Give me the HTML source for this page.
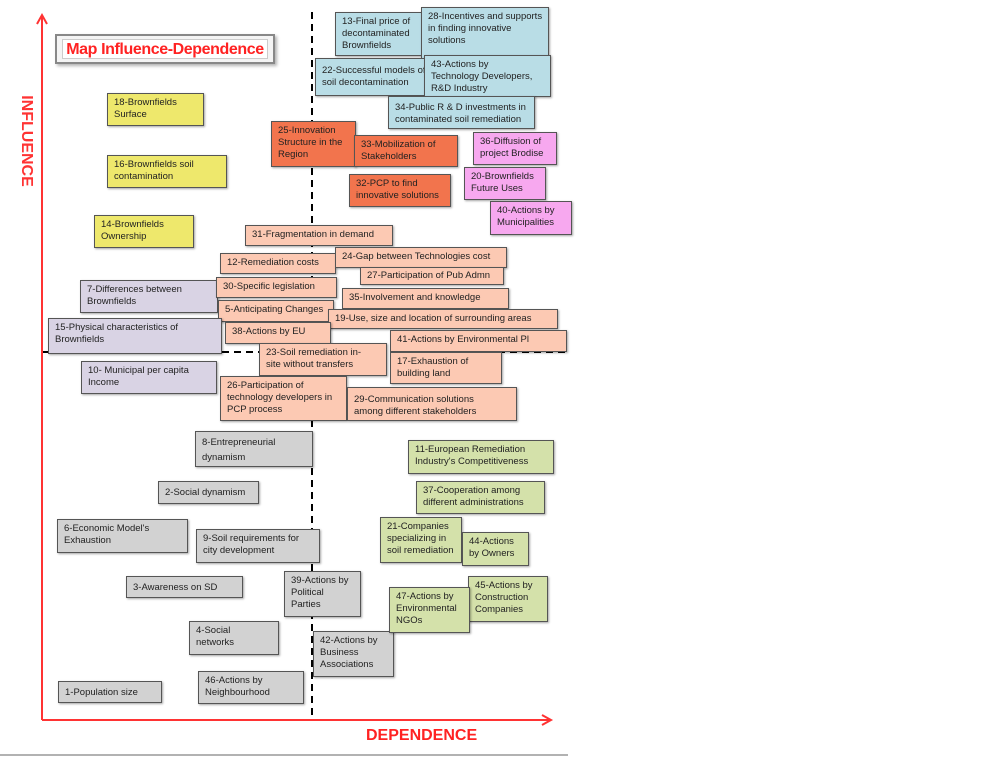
<!DOCTYPE html>
<html><head><meta charset="utf-8"><style>
body{margin:0;width:1008px;height:757px;background:#fff;position:relative;overflow:hidden;font-family:"Liberation Sans",sans-serif}
.b{position:absolute;box-sizing:border-box;border:1px solid #555;font-size:9.5px;line-height:12px;padding:3px 4px 2px 6px;color:#222;box-shadow:1px 1px 2px rgba(0,0,0,.35);white-space:nowrap;overflow:hidden}
.y{background:#eee86c}.bl{background:#b9dde6}.o{background:#f2744d}.p{background:#f7a8ef}.s{background:#fcc9b3}.l{background:#d9d3e4}.g{background:#d2d2d2}.gr{background:#d4e1aa}
</style></head><body>
<svg width="1008" height="757" style="position:absolute;left:0;top:0">
<line x1="312" y1="12" x2="312" y2="720" stroke="#000" stroke-width="2" stroke-dasharray="7,5"/>
<line x1="42" y1="352" x2="565" y2="352" stroke="#000" stroke-width="2" stroke-dasharray="7,5"/>
<line x1="42" y1="720" x2="42" y2="16" stroke="#f33" stroke-width="2"/>
<polyline points="37,24 42,15 47,24" fill="none" stroke="#f33" stroke-width="2"/>
<line x1="42" y1="720" x2="550" y2="720" stroke="#f33" stroke-width="2"/>
<polyline points="542,715 551,720 542,725" fill="none" stroke="#f33" stroke-width="2"/>
<line x1="0" y1="755" x2="568" y2="755" stroke="#999" stroke-width="1.5"/>
</svg>
<div style="position:absolute;left:55px;top:34px;width:220px;height:30px;border:2px solid #888;background:#f4f4f4;box-shadow:2px 2px 3px rgba(0,0,0,.3);box-sizing:border-box"><div style="position:absolute;left:5px;top:3px;right:5px;bottom:3px;border:1px solid #ccc;background:#fff;color:#f22;font-weight:bold;font-size:16px;letter-spacing:-0.4px;line-height:20px;text-align:center;white-space:nowrap">Map Influence-Dependence</div></div>
<div style="position:absolute;left:-26px;top:132px;width:104px;transform:rotate(90deg);color:#f33;font-weight:bold;font-size:16px;text-align:center">INFLUENCE</div>
<div style="position:absolute;left:366px;top:727px;color:#f22;font-weight:bold;font-size:16px">DEPENDENCE</div>

<div class="b bl" style="left:335px;top:12px;width:90px;height:44px">13-Final price of<br>decontaminated<br>Brownfields</div>
<div class="b bl" style="left:421px;top:7px;width:128px;height:52px">28-Incentives and supports<br>in finding innovative<br>solutions</div>
<div class="b bl" style="left:315px;top:58px;width:110px;height:38px;padding-top:6px">22-Successful models of<br>soil decontamination</div>
<div class="b bl" style="left:424px;top:55px;width:127px;height:42px">43-Actions by<br>Technology Developers,<br>R&amp;D Industry</div>
<div class="b bl" style="left:388px;top:96px;width:147px;height:33px;padding-top:5px">34-Public R &amp; D investments in<br>contaminated soil remediation</div>
<div class="b y" style="left:107px;top:93px;width:97px;height:33px">18-Brownfields<br>Surface</div>
<div class="b y" style="left:107px;top:155px;width:120px;height:33px">16-Brownfields soil<br>contamination</div>
<div class="b y" style="left:94px;top:215px;width:100px;height:33px">14-Brownfields<br>Ownership</div>
<div class="b o" style="left:271px;top:121px;width:85px;height:46px">25-Innovation<br>Structure in the<br>Region</div>
<div class="b o" style="left:354px;top:135px;width:104px;height:32px">33-Mobilization of<br>Stakeholders</div>
<div class="b o" style="left:349px;top:174px;width:102px;height:33px">32-PCP to find<br>innovative solutions</div>
<div class="b p" style="left:473px;top:132px;width:84px;height:33px">36-Diffusion of<br>project Brodise</div>
<div class="b p" style="left:464px;top:167px;width:82px;height:33px">20-Brownfields<br>Future Uses</div>
<div class="b p" style="left:490px;top:201px;width:82px;height:34px">40-Actions by<br>Municipalities</div>
<div class="b s" style="left:245px;top:225px;width:148px;height:21px">31-Fragmentation in demand</div>
<div class="b s" style="left:220px;top:253px;width:116px;height:21px">12-Remediation costs</div>
<div class="b s" style="left:335px;top:247px;width:172px;height:21px">24-Gap between Technologies cost</div>
<div class="b s" style="left:360px;top:267px;width:144px;height:18px;padding-top:2px">27-Participation of Pub Admn</div>
<div class="b l" style="left:80px;top:280px;width:138px;height:33px">7-Differences between<br>Brownfields</div>
<div class="b s" style="left:216px;top:277px;width:121px;height:21px">30-Specific legislation</div>
<div class="b s" style="left:342px;top:288px;width:167px;height:21px">35-Involvement and knowledge</div>
<div class="b s" style="left:218px;top:300px;width:116px;height:22px">5-Anticipating Changes</div>
<div class="b s" style="left:328px;top:309px;width:230px;height:20px">19-Use, size and location of surrounding areas</div>
<div class="b l" style="left:48px;top:318px;width:174px;height:36px">15-Physical characteristics of<br>Brownfields</div>
<div class="b s" style="left:225px;top:322px;width:106px;height:22px">38-Actions by EU</div>
<div class="b s" style="left:390px;top:330px;width:177px;height:22px">41-Actions by Environmental Pl</div>
<div class="b s" style="left:259px;top:343px;width:128px;height:33px">23-Soil remediation in-<br>site without transfers</div>
<div class="b s" style="left:390px;top:352px;width:112px;height:32px">17-Exhaustion of<br>building land</div>
<div class="b l" style="left:81px;top:361px;width:136px;height:33px">10- Municipal per capita<br>Income</div>
<div class="b s" style="left:220px;top:376px;width:127px;height:45px">26-Participation of<br>technology developers in<br>PCP process</div>
<div class="b s" style="left:347px;top:387px;width:170px;height:34px;padding-top:6px">29-Communication solutions<br>among different stakeholders</div>
<div class="b g" style="left:195px;top:431px;width:118px;height:36px;line-height:15px">8-Entrepreneurial<br>dynamism</div>
<div class="b g" style="left:158px;top:481px;width:101px;height:23px;padding-top:5px">2-Social dynamism</div>
<div class="b g" style="left:57px;top:519px;width:131px;height:34px">6-Economic Model's<br>Exhaustion</div>
<div class="b g" style="left:196px;top:529px;width:124px;height:34px">9-Soil requirements for<br>city development</div>
<div class="b g" style="left:126px;top:576px;width:117px;height:22px;padding-top:5px">3-Awareness on SD</div>
<div class="b g" style="left:284px;top:571px;width:77px;height:46px">39-Actions by<br>Political<br>Parties</div>
<div class="b g" style="left:189px;top:621px;width:90px;height:34px">4-Social<br>networks</div>
<div class="b g" style="left:313px;top:631px;width:81px;height:46px">42-Actions by<br>Business<br>Associations</div>
<div class="b g" style="left:58px;top:681px;width:104px;height:22px;padding-top:5px">1-Population size</div>
<div class="b g" style="left:198px;top:671px;width:106px;height:33px">46-Actions by<br>Neighbourhood</div>
<div class="b gr" style="left:408px;top:440px;width:146px;height:34px">11-European Remediation<br>Industry's Competitiveness</div>
<div class="b gr" style="left:416px;top:481px;width:129px;height:33px">37-Cooperation among<br>different administrations</div>
<div class="b gr" style="left:380px;top:517px;width:82px;height:46px">21-Companies<br>specializing in<br>soil remediation</div>
<div class="b gr" style="left:462px;top:532px;width:67px;height:34px">44-Actions<br>by Owners</div>
<div class="b gr" style="left:468px;top:576px;width:80px;height:46px">45-Actions by<br>Construction<br>Companies</div>
<div class="b gr" style="left:389px;top:587px;width:81px;height:46px">47-Actions by<br>Environmental<br>NGOs</div>
</body></html>
